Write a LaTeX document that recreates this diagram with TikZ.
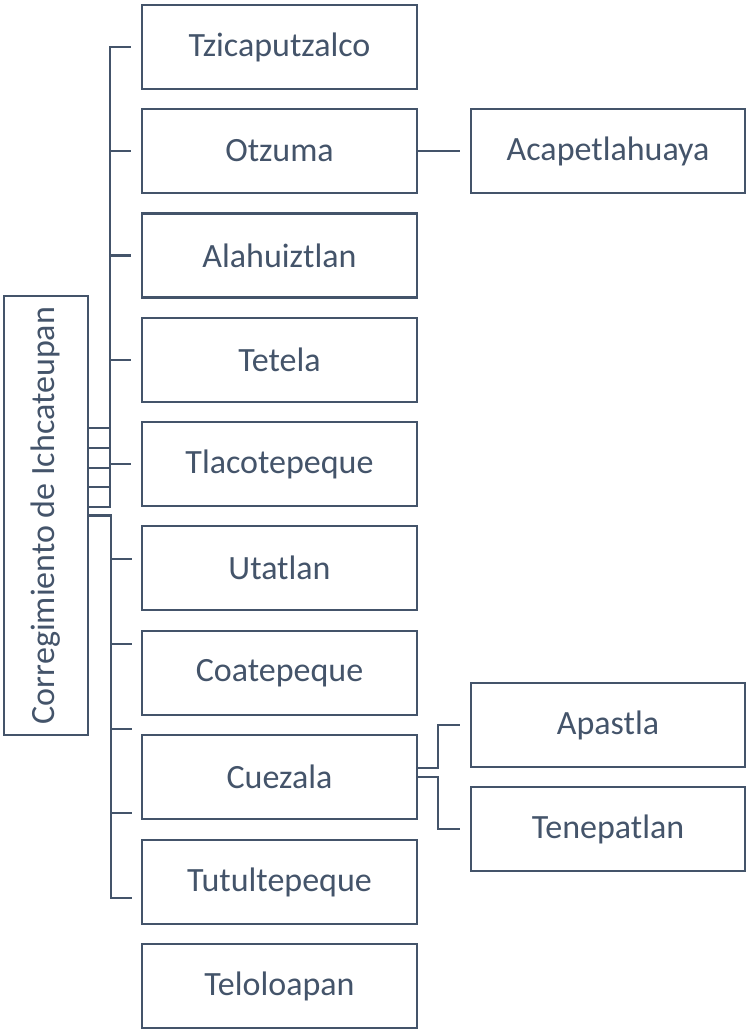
\documentclass[tikz,border=0pt]{standalone}
\usepackage{fontspec}
\setmainfont{Carlito}
\usepackage{graphicx}
\definecolor{slate}{HTML}{44546A}
\tikzset{
  place/.style={draw=slate, line width=2.4pt, text=slate, minimum width=275pt,
    minimum height=84pt, inner sep=0pt, font=\fontsize{34}{40}\selectfont},
  link/.style={draw=slate, line width=2.6pt}
}
\begin{document}
\begin{tikzpicture}[x=1pt, y=-1pt]
      \useasboundingbox (0,0) rectangle (746,1030);
      \draw
        (46,515.5) node[place, minimum width=84pt, minimum height=439pt] (root)
          {\rotatebox{90}{Corregimiento de Ichcateupan}}
        (279.5,47) node[place] (tz){Tzicaputzalco}
        (279.5,151) node[place] (ot){Otzuma}
        (279.5,255.5) node[place] (al){Alahuiztlan}
        (279.5,360) node[place] (te){Tetela}
        (279.5,464) node[place] (tl){Tlacotepeque}
        (279.5,568) node[place] (ut){Utatlan}
        (279.5,673) node[place] (co){Coatepeque}
        (279.5,777) node[place] (cu){Cuezala}
        (279.5,882) node[place] (tu){Tutultepeque}
        (279.5,986) node[place] (tlo){Teloloapan}
        (608,151) node[place, minimum width=274pt] (ac){Acapetlahuaya}
        (608,725) node[place, minimum width=274pt] (ap){Apastla}
        (608,829) node[place, minimum width=274pt] (tn){Tenepatlan};
      % ticks on the lower half of the bus
      \coordinate (k1) at (132,559);
      \coordinate (k2) at (132,644);
      \coordinate (k3) at (132,729);
      \coordinate (k4) at (132,813);
      \coordinate (k5) at (132,898);
      \begin{scope}[link]
        \draw ([yshift=87.5pt]root.east) -| ([xshift=-31pt]tz.west) -- ([xshift=-10pt]tz.west);
        \draw ([yshift=67.5pt]root.east) -| ([xshift=-31pt]ot.west) -- ([xshift=-10pt]ot.west);
        \draw ([yshift=47.5pt]root.east) -| ([xshift=-31pt]al.west) -- ([xshift=-10pt]al.west);
        \draw ([yshift=28.5pt]root.east) -| ([xshift=-31pt]te.west) -- ([xshift=-10pt]te.west);
        \draw ([yshift=8.5pt]root.east) -| ([xshift=-31pt]tl.west) -- ([xshift=-10pt]tl.west);
        \draw (root.east) -| ([xshift=-21pt]k1) -- (k1);
        \draw (root.east) -| ([xshift=-21pt]k2) -- (k2);
        \draw (root.east) -| ([xshift=-21pt]k3) -- (k3);
        \draw (root.east) -| ([xshift=-21pt]k4) -- (k4);
        \draw (root.east) -| ([xshift=-21pt]k5) -- (k5);
        \draw (ot.east) -- ([xshift=-10pt]ac.west);
        \draw ([yshift=9pt]cu.east) -| ([xshift=-32pt]ap.west) -- ([xshift=-10pt]ap.west);
        \draw (cu.east) -| ([xshift=-32pt]tn.west) -- ([xshift=-10pt]tn.west);
      \end{scope}
    \end{tikzpicture}
\end{document}
